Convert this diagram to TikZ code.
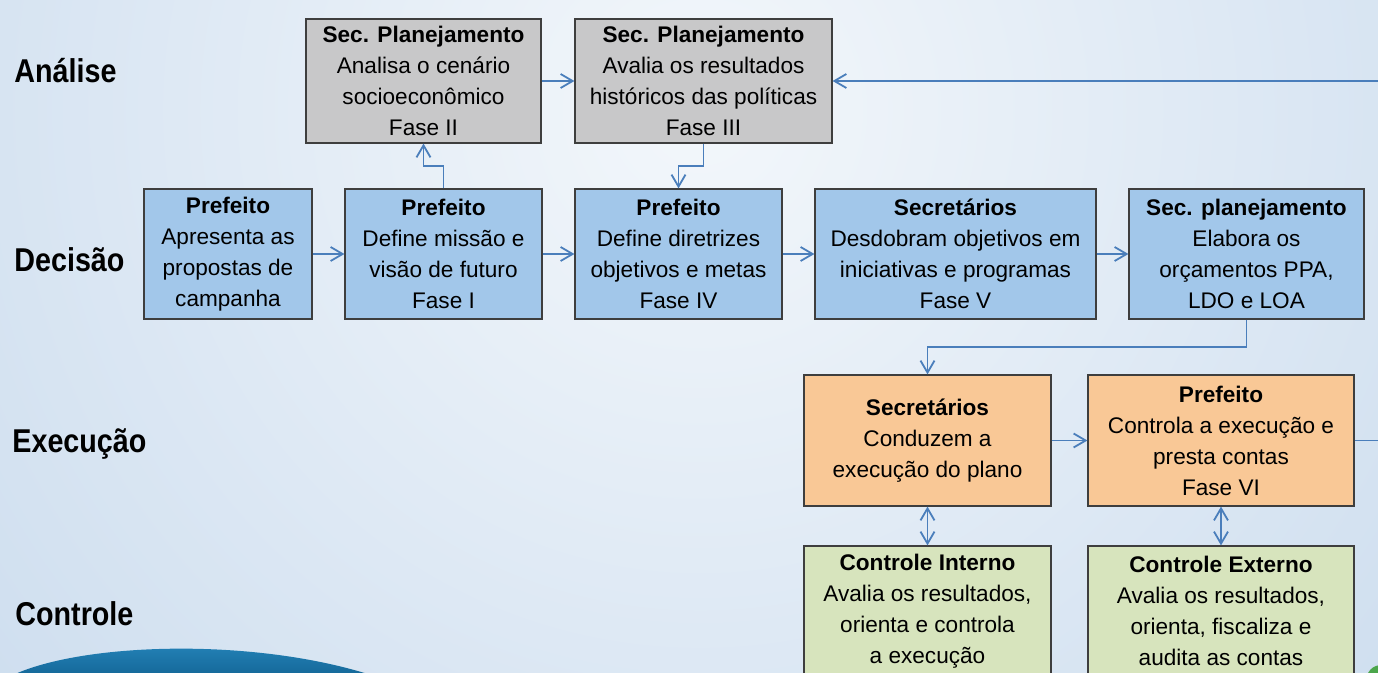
\documentclass[tikz,border=0pt]{standalone}
\usepackage{fontspec}
\setmainfont{Liberation Sans}
\newfontfamily\rowfont[FakeStretch=0.87]{Liberation Sans}
\usetikzlibrary{arrows.meta,positioning}

\definecolor{gfill}{HTML}{C8C8C9}
\definecolor{bfill}{HTML}{A2C7EA}
\definecolor{ofill}{HTML}{F9C896}
\definecolor{vfill}{HTML}{D7E4BD}
\definecolor{rim}{HTML}{3E3E3E}
\definecolor{wire}{HTML}{4A7EBB}
\definecolor{bgin}{HTML}{F3F7FB}
\definecolor{bgout}{HTML}{CBDCEE}
\definecolor{swa}{HTML}{2A8DC5}
\definecolor{swb}{HTML}{0E5C8A}

\tikzset{
  box/.style={draw=rim, line width=0.6pt, align=center, inner sep=2pt,
    font=\fontsize{11.3}{15.5}\selectfont},
  ana/.style={box, fill=gfill, minimum height=62pt},
  dec/.style={box, fill=bfill, minimum height=65pt},
  exe/.style={box, fill=ofill, minimum height=65.5pt},
  ctl/.style={box, fill=vfill, minimum height=65pt},
  row/.style={anchor=base west, inner sep=0pt, font=\rowfont\fontsize{16.5}{18}\selectfont\bfseries},
  link/.style={draw=wire, line width=0.9pt, ->},
  both/.style={draw=wire, line width=0.9pt, <->}
}

\begin{document}
\begin{tikzpicture}[x=0.5pt, y=-0.5pt, >={Straight Barb[length=6pt,width=7pt]}]
  \clip (0,0) rectangle (1378,673);
  \shade[inner color=bgin, outer color=bgout] (700,110) circle (1000);
  \shade[top color=swa, bottom color=swb] (-10,690) .. controls (40,640) and (280,630) .. (410,690) -- cycle;
  \fill[green!50!black!70] (1368,673) .. controls (1371,668) and (1374,666) .. (1380,665) -- (1380,673) -- cycle;

  \node[row] (tana) at (14,83) {Análise};
  \node[row] (tdec) at (14,272) {Decisão};
  \node[row] (texe) at (12,453) {Execução};
  \node[row] (tctl) at (15,626) {Controle};

  \node[ana, minimum width=117.5pt] (g1) at (423.5,81) {\textbf{Sec. Planejamento}\\Analisa o cenário\\socioeconômico\\Fase II};
  \node[ana, minimum width=128.5pt] (g2) at (703.5,81) {\textbf{Sec. Planejamento}\\Avalia os resultados\\históricos das políticas\\Fase III};

  \node[dec, minimum width=84pt] (d1) at (228,254) {\textbf{Prefeito}\\Apresenta as\\propostas de\\campanha};
  \node[dec, minimum width=98.5pt] (d2) at (443.5,254) {\textbf{Prefeito}\\Define missão e\\visão de futuro\\Fase I};
  \node[dec, minimum width=103.5pt] (d3) at (678.5,254) {\textbf{Prefeito}\\Define diretrizes\\objetivos e metas\\Fase IV};
  \node[dec, minimum width=140.5pt] (d4) at (955.5,254) {\textbf{Secretários}\\Desdobram objetivos em\\iniciativas e programas\\Fase V};
  \node[dec, minimum width=117.5pt] (d5) at (1246.5,254) {\textbf{Sec. planejamento}\\Elabora os\\orçamentos PPA,\\LDO e LOA};

  \node[exe, minimum width=123.5pt] (e1) at (927.5,440.5) {\textbf{Secretários}\\Conduzem a\\execução do plano};
  \node[exe, minimum width=133pt] (e2) at (1221,440.5) {\textbf{Prefeito}\\Controla a execução e\\presta contas\\Fase VI};

  \node[ctl, minimum width=123.5pt] (c1) at (927.5,611) {\textbf{Controle Interno}\\Avalia os resultados,\\orienta e controla\\a execução};
  \node[ctl, minimum width=133pt] (c2) at (1221,611) {\textbf{Controle Externo}\\Avalia os resultados,\\orienta, fiscaliza e\\audita as contas};

  \coordinate (upA) at (0,166);
  \coordinate (dnB) at (0,347);
  \coordinate (far) at (1400,0);

  \path[link]
    (g1) edge (g2)
    (d1) edge (d2)
    (d2) edge (d3)
    (d3) edge (d4)
    (d4) edge (d5)
    (e1) edge (e2);
  \path[both]
    (e1) edge (c1)
    (e2) edge (c2);
  \draw[link] (d2.north) -- (d2.north |- upA) -| (g1.south);
  \draw[link] (g2.south) -- (g2.south |- upA) -| (d3.north);
  \draw[link] (d5.south) -- (d5.south |- dnB) -| (e1.north);
  \draw[link] (e2.east) -- (e2.east -| far) -- (g2.east -| far) -- (g2.east);
\end{tikzpicture}
\end{document}
